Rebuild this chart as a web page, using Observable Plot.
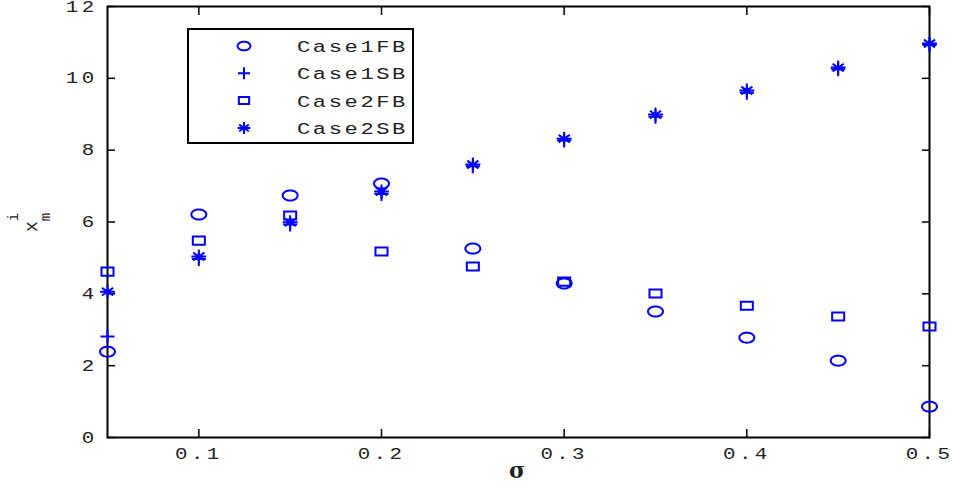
<!DOCTYPE html>
<html><head><meta charset="utf-8">
<script src="https://cdn.jsdelivr.net/npm/d3@7"></script>
<script src="https://cdn.jsdelivr.net/npm/@observablehq/plot@0.6"></script>
<style>
body{margin:0;background:#fff;}
#wrap{position:relative;width:953px;height:487px;}
</style></head><body><div id="wrap"></div>
<script>
const sigma   = [0.05, 0.10, 0.15, 0.20, 0.25, 0.30, 0.35, 0.40, 0.45, 0.50];
const case1FB = [2.39, 6.21, 6.74, 7.07, 5.26, 4.29, 3.51, 2.78, 2.14, 0.86];
const case1SB = [2.81, 4.97, 5.93, 6.78, 7.55, 8.27, 8.93, 9.60, 10.25, 10.93];
const case2FB = [4.62, 5.48, 6.18, 5.18, 4.76, 4.34, 4.01, 3.67, 3.37, 3.09];
const case2SB = [4.06, 5.04, 5.99, 6.85, 7.60, 8.32, 8.99, 9.66, 10.30, 10.97];
const seriesNames = ["Case1FB", "Case1SB", "Case2FB", "Case2SB"];
const xTicks = [0.1, 0.2, 0.3, 0.4, 0.5];
const yTicks = [0, 2, 4, 6, 8, 10, 12];

const blue = "#0000ff";
const rOf = size => Math.sqrt(size / Math.PI);
const symEllipse = {draw(c, size){ const r = rOf(size), rx = r*1.07, ry = r*0.72, n = 36;
  for (let k = 0; k <= n; k++){ const a = 2*Math.PI*k/n, px = rx*Math.cos(a), py = ry*Math.sin(a); k ? c.lineTo(px,py) : c.moveTo(px,py);} c.closePath(); }};
const symPlus = {draw(c, size){ const r = rOf(size), w = r*1.0, h = r*1.0;
  c.moveTo(-w,0); c.lineTo(w,0); c.moveTo(0,-h); c.lineTo(0,h); }};
const symSquare = {draw(c, size){ const r = rOf(size), w = r*0.86, h = r*0.58;
  c.moveTo(-w,-h); c.lineTo(w,-h); c.lineTo(w,h); c.lineTo(-w,h); c.closePath(); }};
const symStar = {draw(c, size){ const r = rOf(size), w = r*1.07, h = r*1.0, dw = r*0.8, dh = r*0.55;
  c.moveTo(-w,0); c.lineTo(w,0); c.moveTo(0,-h); c.lineTo(0,h);
  c.moveTo(-dw,-dh); c.lineTo(dw,dh); c.moveTo(-dw,dh); c.lineTo(dw,-dh); }};
const symbols = [symEllipse, symPlus, symSquare, symStar];
const seriesValues = [case1FB, case1SB, case2FB, case2SB];

const tables = seriesValues.map((vals, j) => sigma.map((s, i) => ({s, v: vals[i], series: seriesNames[j]})));

const chart = Plot.plot({
  width: 953, height: 487,
  marginLeft: 107, marginRight: 24, marginTop: 6, marginBottom: 50,
  x: {domain: [0.05, 0.5]},
  y: {domain: [0, 12]},
  style: {fontFamily: "Liberation Mono", fontSize: "16px", color: "#222", background: "white", overflow: "visible"},
  marks: [
    Plot.axisX(xTicks, {anchor: "bottom", tickSize: -8, text: null, label: null, stroke: "black", strokeWidth: 1.5}),
    Plot.axisX(xTicks, {anchor: "top", tickSize: -8, text: null, label: null, stroke: "black", strokeWidth: 1.5}),
    Plot.axisY(yTicks, {anchor: "left", tickSize: -8, text: null, label: null, stroke: "black", strokeWidth: 1.5}),
    Plot.axisY(yTicks, {anchor: "right", tickSize: -8, text: null, label: null, stroke: "black", strokeWidth: 1.5}),
    Plot.axisX(xTicks, {anchor: "bottom", tickSize: 0, tickPadding: 10, label: null, tickFormat: d => d.toFixed(1), fill: "#222"}),
    Plot.axisY(yTicks, {anchor: "left", tickSize: 0, tickPadding: 10, label: null, fill: "#222"}),
    Plot.frame({stroke: "black", strokeWidth: 2}),
    ...tables.map((t, j) => Plot.dot(t, {x: "s", y: "v", symbol: symbols[j], r: 7, stroke: blue, strokeWidth: 2, fill: "none"}))
  ]
});
document.getElementById("wrap").appendChild(chart);

const svg = d3.select(chart);
// widen the monospace tick labels like the reference's stretched Courier
svg.selectAll("g[aria-label='x-axis tick label'] text, g[aria-label='y-axis tick label'] text")
  .each(function(){ const t = this.getAttribute("transform") || ""; this.setAttribute("transform", t + " scale(1.3,1)"); })
  .style("letter-spacing", "2.6px");

// Legend
const lg = svg.append("g");
lg.append("rect").attr("x", 188).attr("y", 29).attr("width", 225).attr("height", 114)
  .attr("fill", "white").attr("stroke", "black").attr("stroke-width", 2);
seriesNames.forEach((name, j) => {
  const cy = 46 + j * 27.3;
  lg.append("path").attr("transform", `translate(244,${cy})`)
    .attr("d", d3.symbol().type(symbols[j]).size(Math.PI * 36)())
    .attr("fill", "none").attr("stroke", blue).attr("stroke-width", 2);
  lg.append("text").attr("transform", `translate(297,${cy + 6}) scale(1.3,1)`).attr("text-anchor", "start").text(name)
    .attr("font-family", "Liberation Mono").attr("font-size", 17).attr("letter-spacing", "2px").attr("fill", "#222");
});

// Y label: x with subscript m and superscript i
const yl = svg.append("text").attr("transform", "translate(37,232) rotate(-90)").attr("text-anchor", "start")
  .attr("font-family", "Liberation Mono").attr("fill", "#222");
yl.append("tspan").attr("font-size", 18).text("x");
yl.append("tspan").attr("font-size", 14).attr("dy", 13).text("m");
yl.append("tspan").attr("font-size", 14).attr("dx", -8.4).attr("dy", -32).text("i");

// X label
svg.append("text").attr("x", 517).attr("y", 478).attr("text-anchor", "middle")
  .attr("font-family", "DejaVu Serif").attr("font-size", 22).attr("font-weight", "bold").attr("fill", "#222").text("σ");
</script>
</body></html>
